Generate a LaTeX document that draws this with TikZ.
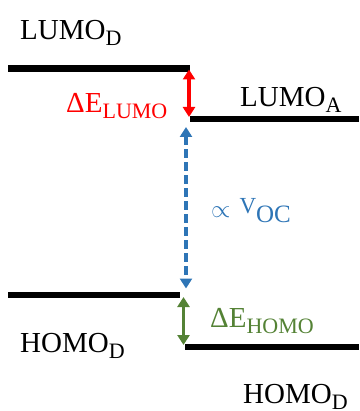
\documentclass[tikz,border=0pt]{standalone}
\usepackage{fontspec}
\setmainfont{Liberation Serif}
\usetikzlibrary{arrows.meta}
\definecolor{lumored}{RGB}{255,0,0}
\definecolor{vocblue}{RGB}{46,117,182}
\definecolor{homogreen}{RGB}{84,130,53}
% level subscript, set smaller and lowered
\newcommand{\lvl}[1]{\raisebox{-6pt}{\fontsize{22}{22}\selectfont #1}}
\begin{document}
\begin{tikzpicture}[x=1pt,y=-1pt,
  level/.style={line width=6.5pt},
  gap/.style={line width=3.5pt,{Triangle[width=12pt,length=10pt]}-{Triangle[width=12pt,length=10pt]}},
  lbl/.style={inner sep=0pt,anchor=base west,font=\fontsize{29}{29}\selectfont}]
\useasboundingbox (0,0) rectangle (359,411);
% energy levels
\coordinate (ld1) at (8,68.5);   \coordinate (ld2) at (190,68.5);
\coordinate (la1) at (190,119);  \coordinate (la2) at (359,119);
\coordinate (hd1) at (8,295);    \coordinate (hd2) at (180,295);
\coordinate (ha1) at (185,347);  \coordinate (ha2) at (359,347);
\draw[level] (ld1) -- (ld2);
\draw[level] (la1) -- (la2);
\draw[level] (hd1) -- (hd2);
\draw[level] (ha1) -- (ha2);
% offsets between the levels
\coordinate (r1) at (189,69.5);  \coordinate (r2) at (189,117);
\coordinate (b1) at (186,127);   \coordinate (b2) at (186,288.5);
\coordinate (g1) at (183.5,297); \coordinate (g2) at (183.5,345);
\draw[gap,lumored] (r1) -- (r2);
\draw[gap,vocblue,dash pattern=on 9pt off 4pt] (b1) -- (b2);
\draw[gap,homogreen] (g1) -- (g2);
% labels
\node[lbl] (tld) at (20,40) {LUMO\lvl{D}};
\node[lbl] (tla) at (240,107) {LUMO\lvl{A}};
\node[lbl,text=lumored] (tdl) at (66,113) {ΔE\lvl{LUMO}};
\node[lbl,text=vocblue] (tv) at (211,218) {{\fontsize{31}{31}\selectfont$\propto$}\hspace{9pt}\raisebox{4pt}{\fontsize{23}{23}\selectfont V}\raisebox{-5pt}{\fontsize{25}{25}\selectfont OC}};
\node[lbl,text=homogreen] (tdh) at (210,327) {ΔE\lvl{HOMO}};
\node[lbl] (thd) at (20,352) {HOMO\lvl{D}};
\node[lbl] (tha) at (243,403) {HOMO\lvl{D}};
\end{tikzpicture}
\end{document}
